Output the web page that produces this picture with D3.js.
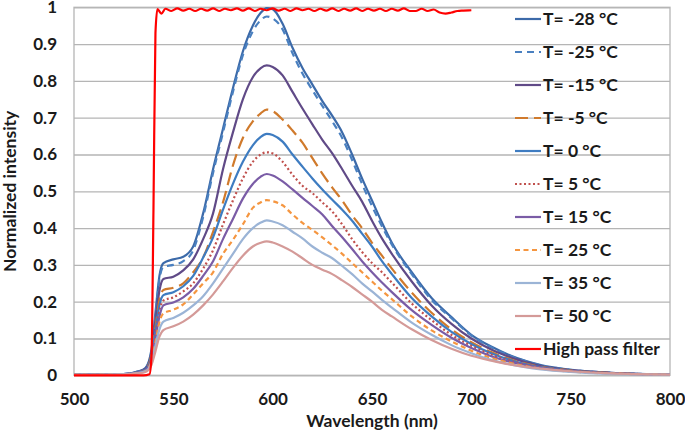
<!DOCTYPE html>
<html><head><meta charset="utf-8">
<script src="https://cdn.jsdelivr.net/npm/d3@7"></script>
<style>
body{margin:0;background:#fff;}
text{font-family:Lato,"Open Sans",sans-serif;font-weight:700;fill:#1a1a1a;}
</style></head>
<body><svg id="c" width="685" height="438"></svg>
<script>
const wavelengths = [500,525,532,536,539,541,543,545,550,555,560,565,570,575,580,585,590,594,597,600,605,610,615,620,625,630,635,640,645,650,655,660,670,680,690,700,710,720,735,750,770,800];
const seriesNames = ["T= -28 °C","T= -25 °C","T= -15 °C","T= -5 °C","T= 0 °C","T= 5 °C","T= 15 °C","T= 25 °C","T= 35 °C","T= 50 °C"];
const tM28 = [0.001,0.003,0.01,0.02,0.07,0.17,0.27, 0.305,0.315,0.322,0.35,0.44,0.56,0.67,0.78,0.88,0.95, 0.985,0.998,0.995, 0.955,0.89,0.835,0.79,0.745,0.705,0.66,0.6,0.535,0.475,0.415,0.36, 0.28,0.21,0.158,0.11,0.078,0.053,0.028,0.015,0.007,0.002];
const tM25 = [0.001,0.003,0.01,0.02,0.065,0.16,0.26, 0.295,0.3,0.31,0.34,0.43,0.55,0.66,0.77,0.87,0.935, 0.965,0.975,0.97, 0.94,0.875,0.82,0.775,0.732,0.69,0.645,0.585,0.52,0.46,0.405,0.355, 0.275,0.205,0.155,0.108,0.076,0.052,0.027,0.015,0.007,0.002];
const tM15 = [0.001,0.003,0.009,0.018,0.06,0.145,0.23, 0.262,0.268,0.285,0.315,0.37,0.44,0.56,0.66,0.75,0.81, 0.835,0.842,0.838, 0.815,0.77,0.725,0.682,0.64,0.603,0.56,0.515,0.472,0.42,0.372,0.33, 0.255,0.19,0.14,0.1,0.07,0.048,0.025,0.014,0.007,0.002];
const tM5 = [0.001,0.003,0.008,0.016,0.055,0.13,0.205, 0.232,0.238,0.25,0.28,0.32,0.39,0.47,0.57,0.645,0.69, 0.712,0.722,0.718, 0.695,0.665,0.632,0.59,0.548,0.51,0.475,0.435,0.4,0.36,0.325,0.29, 0.225,0.17,0.125,0.09,0.063,0.043,0.023,0.013,0.006,0.002];
const t0 = [0.001,0.003,0.008,0.015,0.05,0.12,0.19, 0.218,0.226,0.242,0.27,0.32,0.375,0.45,0.52,0.58,0.625, 0.648,0.656,0.653, 0.635,0.6,0.567,0.535,0.505,0.477,0.45,0.42,0.385,0.35,0.31,0.275, 0.21,0.16,0.118,0.085,0.06,0.041,0.022,0.012,0.006,0.002];
const t5 = [0.001,0.003,0.007,0.014,0.045,0.11,0.175, 0.203,0.212,0.228,0.25,0.29,0.34,0.41,0.475,0.535,0.58, 0.6,0.606,0.603, 0.58,0.545,0.515,0.495,0.47,0.445,0.41,0.37,0.335,0.305,0.28,0.252, 0.195,0.15,0.11,0.08,0.056,0.039,0.021,0.012,0.006,0.002];
const t15 = [0.001,0.003,0.007,0.013,0.042,0.1,0.16, 0.19,0.198,0.212,0.235,0.27,0.31,0.37,0.425,0.48,0.52, 0.54,0.547,0.543, 0.527,0.505,0.482,0.46,0.437,0.405,0.375,0.343,0.31,0.28,0.252,0.226, 0.177,0.137,0.102,0.074,0.052,0.036,0.02,0.011,0.005,0.002];
const t25 = [0.001,0.003,0.006,0.012,0.038,0.09,0.145, 0.168,0.178,0.193,0.22,0.25,0.28,0.33,0.368,0.41,0.455, 0.47,0.476,0.473, 0.462,0.437,0.414,0.395,0.375,0.353,0.33,0.305,0.28,0.255,0.23,0.207, 0.16,0.122,0.092,0.067,0.047,0.033,0.018,0.01,0.005,0.002];
const t35 = [0.001,0.003,0.006,0.011,0.034,0.08,0.125, 0.146,0.156,0.17,0.19,0.215,0.25,0.29,0.33,0.37,0.4, 0.415,0.421,0.418, 0.408,0.39,0.372,0.35,0.333,0.318,0.297,0.275,0.25,0.228,0.205,0.184, 0.143,0.11,0.082,0.06,0.042,0.029,0.016,0.009,0.004,0.002];
const t50 = [0.001,0.002,0.005,0.009,0.028,0.065,0.105, 0.123,0.133,0.146,0.165,0.19,0.22,0.255,0.292,0.325,0.35, 0.36,0.364,0.361, 0.35,0.336,0.318,0.3,0.287,0.275,0.258,0.24,0.22,0.2,0.178,0.16, 0.125,0.096,0.072,0.053,0.04,0.029,0.018,0.011,0.005,0.002];
const filterName = "High pass filter";
const filterWavelengths = [500,535,538,539,540,541,542,544,546,549,552,555,558,561,564,567,570,573,576,579,582,585,588,591,594,597,600,603,606,609,612,615,618,621,624,627,630,633,636,639,642,645,648,651,654,657,660,663,666,669,672,675,678,681,684,687,690,693,696,700];
const filterValues = [0,0,0.003,0.05,0.45,0.93,0.995,0.983,0.996,0.99, 0.997,0.991,0.996,0.99,0.996,0.991,0.997,0.99,0.996,0.992, 0.997,0.991,0.997,0.99,0.996,0.992,0.997,0.991,0.996,0.99, 0.997,0.992,0.996,0.99,0.996,0.991,0.997,0.99,0.996,0.991, 0.997,0.99,0.996,0.991,0.996,0.99,0.996,0.991,0.997,0.99, 0.99,0.996,0.99,0.994,0.986,0.983,0.986,0.99,0.991,0.992];
const xTicks = [500,550,600,650,700,750,800];
const yTicks = [0,0.1,0.2,0.3,0.4,0.5,0.6,0.7,0.8,0.9,1];
const xTitle = "Wavelength (nm)";
const yTitle = "Normalized intensity";

const allSeries = [tM28,tM25,tM15,tM5,t0,t5,t15,t25,t35,t50];
const colors = ["#3C6AA9","#4A80C0","#604A87","#D07A2C","#3E7CC1","#C0504D","#7A5CA6","#F59640","#9BB4D6","#D49A98"];
const dashes = [null,"7,5",null,"13,6",null,"2,2.5",null,"5,3.5",null,null];

const L=74,R=670,T=7.3,B=375.3;
const svg=d3.select("#c");
const x=d3.scaleLinear().domain([500,800]).range([L,R]);
const y=d3.scaleLinear().domain([0,1]).range([B,T]);

const ya=svg.append("g").attr("transform",`translate(${L},0)`)
  .call(d3.axisLeft(y).tickValues(yTicks).tickSize(-(R-L)).tickPadding(17).tickFormat(d=>String(d)));
ya.select(".domain").remove();
ya.selectAll("line").attr("stroke","#b5b5b5").attr("stroke-width",1.3);
ya.selectAll("text").attr("font-size",17).attr("fill","#1a1a1a").attr("font-family","Lato").attr("font-weight",700);

const xa=svg.append("g").attr("transform",`translate(0,${B})`)
  .call(d3.axisBottom(x).tickValues(xTicks).tickSize(0).tickPadding(18).tickFormat(d=>String(d)));
xa.select(".domain").remove();
xa.selectAll("text").attr("font-size",17).attr("fill","#1a1a1a").attr("font-family","Lato").attr("font-weight",700);

svg.append("rect").attr("x",L).attr("y",T).attr("width",R-L).attr("height",B-T)
  .attr("fill","none").attr("stroke","#b5b5b5").attr("stroke-width",1.3);

const line=d3.line().x(d=>x(d[0])).y(d=>y(d[1])).curve(d3.curveMonotoneX);
allSeries.forEach((s,i)=>{
  svg.append("path").datum(wavelengths.map((w,j)=>[w,s[j]]))
    .attr("d",line).attr("fill","none").attr("stroke",colors[i]).attr("stroke-width",2.2)
    .attr("stroke-dasharray",dashes[i]).attr("stroke-linejoin","round");
});
svg.append("path").datum(filterWavelengths.map((w,j)=>[w,filterValues[j]]))
  .attr("d",line).attr("fill","none").attr("stroke","#FF0000").attr("stroke-width",2.2);

const names=seriesNames.concat([filterName]);
const lc=colors.concat(["#FF0000"]);
const ld=dashes.concat([null]);
names.forEach((n,i)=>{
  const cy=19+i*33;
  svg.append("line").attr("x1",515).attr("x2",541).attr("y1",cy).attr("y2",cy)
    .attr("stroke",lc[i]).attr("stroke-width",2.2).attr("stroke-dasharray",ld[i]);
  svg.append("text").attr("x",543).attr("y",cy).attr("dy","0.36em").attr("font-size",17.5).text(n);
});

svg.append("text").attr("x",(L+R)/2).attr("y",427).attr("text-anchor","middle").attr("font-size",17.5).text(xTitle);
svg.append("text").attr("transform",`translate(16,${(T+B)/2}) rotate(-90)`).attr("text-anchor","middle").attr("font-size",17.5).text(yTitle);
</script></body></html>
